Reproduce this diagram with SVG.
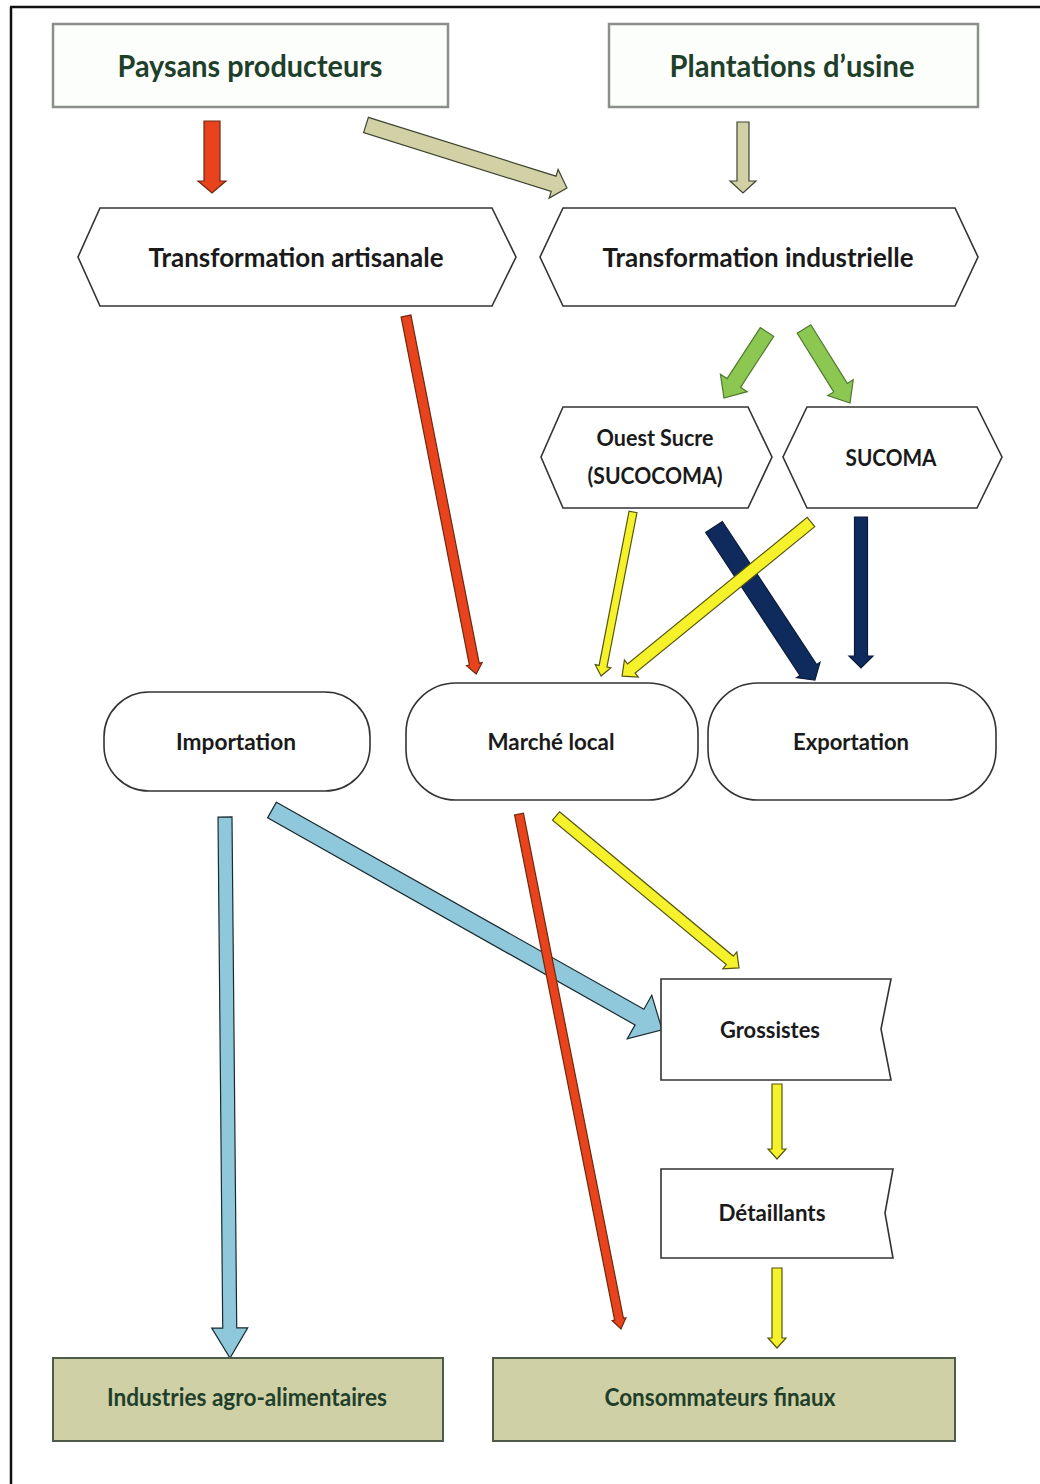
<svg xmlns="http://www.w3.org/2000/svg" width="1040" height="1484" viewBox="0 0 1040 1484">
<style>
.t{font-family:Lato,"Liberation Sans",sans-serif;font-weight:700;text-anchor:middle}
.g{fill:#1f3f2b}
.k{fill:#1a1a1a}
.top{fill:#fcfefc;stroke:#8a8f8a;stroke-width:2.5}
.sh{fill:#fff;stroke:#333;stroke-width:1.6}
.bot{fill:#cfd0a6;stroke:#4f5a48;stroke-width:2}
.a{stroke-width:1.2;stroke-linejoin:miter}
.red{fill:#e8431c;stroke:#6b2a10}
.kh{fill:#d2d1a6;stroke:#3f4430}
.gr{fill:#8cc751;stroke:#4f7a2e}
.ye{fill:#f5f12a;stroke:#555510}
.nv{fill:#0f2a5c;stroke:#0a1a3a}
.bl{fill:#8ec8da;stroke:#1a2a30}
</style>
<rect width="1040" height="1484" fill="#fff"/>
<g id="frame">
<line x1="11" y1="7" x2="11" y2="1484" stroke="#111" stroke-width="2.5"/>
<line x1="10" y1="7" x2="1040" y2="7" stroke="#111" stroke-width="2.5"/>
</g>
<g id="connectors">
<polygon class="a red" points="0,-8 60,-8 60,-14 72,0 60,14 60,8 0,8" transform="translate(212,121) rotate(90)"/>
<polygon class="a kh" points="0,-8 196.6,-8 196.6,-15 210.6,0 196.6,15 196.6,8 0,8" transform="translate(366,125) rotate(17.4)"/>
<polygon class="a kh" points="0,-6 59,-6 59,-13 71,0 59,13 59,6 0,6" transform="translate(743,122) rotate(90)"/>
<polygon class="a gr" points="0,-8 60.8,-8 60.8,-16 78.8,0 60.8,16 60.8,8 0,8" transform="translate(767,332) rotate(123.1)"/>
<polygon class="a gr" points="0,-8 69.1,-8 69.1,-15 87.1,0 69.1,15 69.1,8 0,8" transform="translate(804,329) rotate(58.1)"/>
<polygon class="a nv" points="0,-10 171.3,-10 171.3,-14 183.3,0 171.3,14 171.3,10 0,10" transform="translate(714,527) rotate(56.6)"/>
<polygon class="a nv" points="0,-6.5 139,-6.5 139,-12 151,0 139,12 139,6.5 0,6.5" transform="translate(861,517) rotate(90)"/>
<polygon class="a ye" points="0,-4 157.1,-4 157.1,-8 167.1,0 157.1,8 157.1,4 0,4" transform="translate(633,512) rotate(101)"/>
<polygon class="a ye" points="0,-6 231.8,-6 231.8,-11 243.8,0 231.8,11 231.8,6 0,6" transform="translate(811,522) rotate(140.8)"/>
<polygon class="a red" points="0,-5 354.8,-5 354.8,-8 364.8,0 354.8,8 354.8,5 0,5" transform="translate(406,316) rotate(78.9)"/>
<polygon class="a bl" points="0,-7 511,-7 511,-18 541,0 511,18 511,7 0,7" transform="translate(225,817) rotate(89.47)"/>
<polygon class="a bl" points="0,-9 421.8,-9 421.8,-25 447.8,0 421.8,25 421.8,9 0,9" transform="translate(272,810) rotate(29.4)"/>
<polygon class="a red" points="0,-4.5 515,-4.5 515,-7 525,0 515,7 515,4.5 0,4.5" transform="translate(519,814) rotate(78.8)"/>
<polygon class="a ye" points="0,-5.5 225.9,-5.5 225.9,-11 237.9,0 225.9,11 225.9,5.5 0,5.5" transform="translate(556,816) rotate(39.7)"/>
<polygon class="a ye" points="0,-5 65,-5 65,-9 75,0 65,9 65,5 0,5" transform="translate(777,1084) rotate(90)"/>
<polygon class="a ye" points="0,-5 70,-5 70,-9 80,0 70,9 70,5 0,5" transform="translate(777,1268) rotate(90)"/>
</g>
<g id="paysans">
<rect class="top" x="53" y="24" width="395" height="83"/>
<text class="t g" x="250" y="77" font-size="31" textLength="265" lengthAdjust="spacingAndGlyphs">Paysans producteurs</text>
</g>
<g id="plantations">
<rect class="top" x="609" y="24" width="369" height="83"/>
<text class="t g" x="792" y="77" font-size="31" textLength="245" lengthAdjust="spacingAndGlyphs">Plantations d’usine</text>
</g>
<g id="transf-artisanale">
<path class="sh" d="M100,208 L492,208 L516,257 L492,306 L100,306 L78,257 Z"/>
<text class="t k" x="296" y="267" font-size="27" textLength="295" lengthAdjust="spacingAndGlyphs">Transformation artisanale</text>
</g>
<g id="transf-industrielle">
<path class="sh" d="M563,208 L955,208 L978,257 L955,306 L563,306 L540,257 Z"/>
<text class="t k" x="758" y="267" font-size="27" textLength="311" lengthAdjust="spacingAndGlyphs">Transformation industrielle</text>
</g>
<g id="ouest-sucre">
<path class="sh" d="M563,407 L748,407 L772,457 L748,508 L563,508 L541,457 Z"/>
<text class="t k" x="655" y="446" font-size="23" font-weight="600" textLength="117" lengthAdjust="spacingAndGlyphs">Ouest Sucre</text>
<text class="t k" x="655" y="484" font-size="23" font-weight="600" textLength="135" lengthAdjust="spacingAndGlyphs">(SUCOCOMA)</text>
</g>
<g id="sucoma">
<path class="sh" d="M807,407 L977,407 L1002,457 L977,508 L807,508 L783,457 Z"/>
<text class="t k" x="891" y="466" font-size="23" textLength="91" lengthAdjust="spacingAndGlyphs">SUCOMA</text>
</g>
<g id="importation">
<rect class="sh" x="104" y="692" width="266" height="99" rx="45"/>
<text class="t k" x="236" y="750" font-size="23" textLength="120" lengthAdjust="spacingAndGlyphs">Importation</text>
</g>
<g id="marche-local">
<rect class="sh" x="406" y="683" width="292" height="117" rx="50"/>
<text class="t k" x="551" y="750" font-size="23" textLength="127" lengthAdjust="spacingAndGlyphs">Marché local</text>
</g>
<g id="exportation">
<rect class="sh" x="708" y="683" width="288" height="117" rx="50"/>
<text class="t k" x="851" y="750" font-size="23" textLength="116" lengthAdjust="spacingAndGlyphs">Exportation</text>
</g>
<g id="grossistes">
<path class="sh" d="M661,979 L891,979 L881,1029 L891,1080 L661,1080 Z"/>
<text class="t k" x="770" y="1038" font-size="23" textLength="100" lengthAdjust="spacingAndGlyphs">Grossistes</text>
</g>
<g id="detaillants">
<path class="sh" d="M661,1169 L893,1169 L885,1213 L893,1258 L661,1258 Z"/>
<text class="t k" x="772" y="1221" font-size="23" textLength="107" lengthAdjust="spacingAndGlyphs">Détaillants</text>
</g>
<g id="industries">
<rect class="bot" x="53" y="1358" width="390" height="83"/>
<text class="t g" x="247" y="1406" font-size="25" textLength="280" lengthAdjust="spacingAndGlyphs">Industries agro-alimentaires</text>
</g>
<g id="consommateurs">
<rect class="bot" x="493" y="1358" width="462" height="83"/>
<text class="t g" x="720" y="1406" font-size="25" textLength="231" lengthAdjust="spacingAndGlyphs">Consommateurs finaux</text>
</g>
</svg>
